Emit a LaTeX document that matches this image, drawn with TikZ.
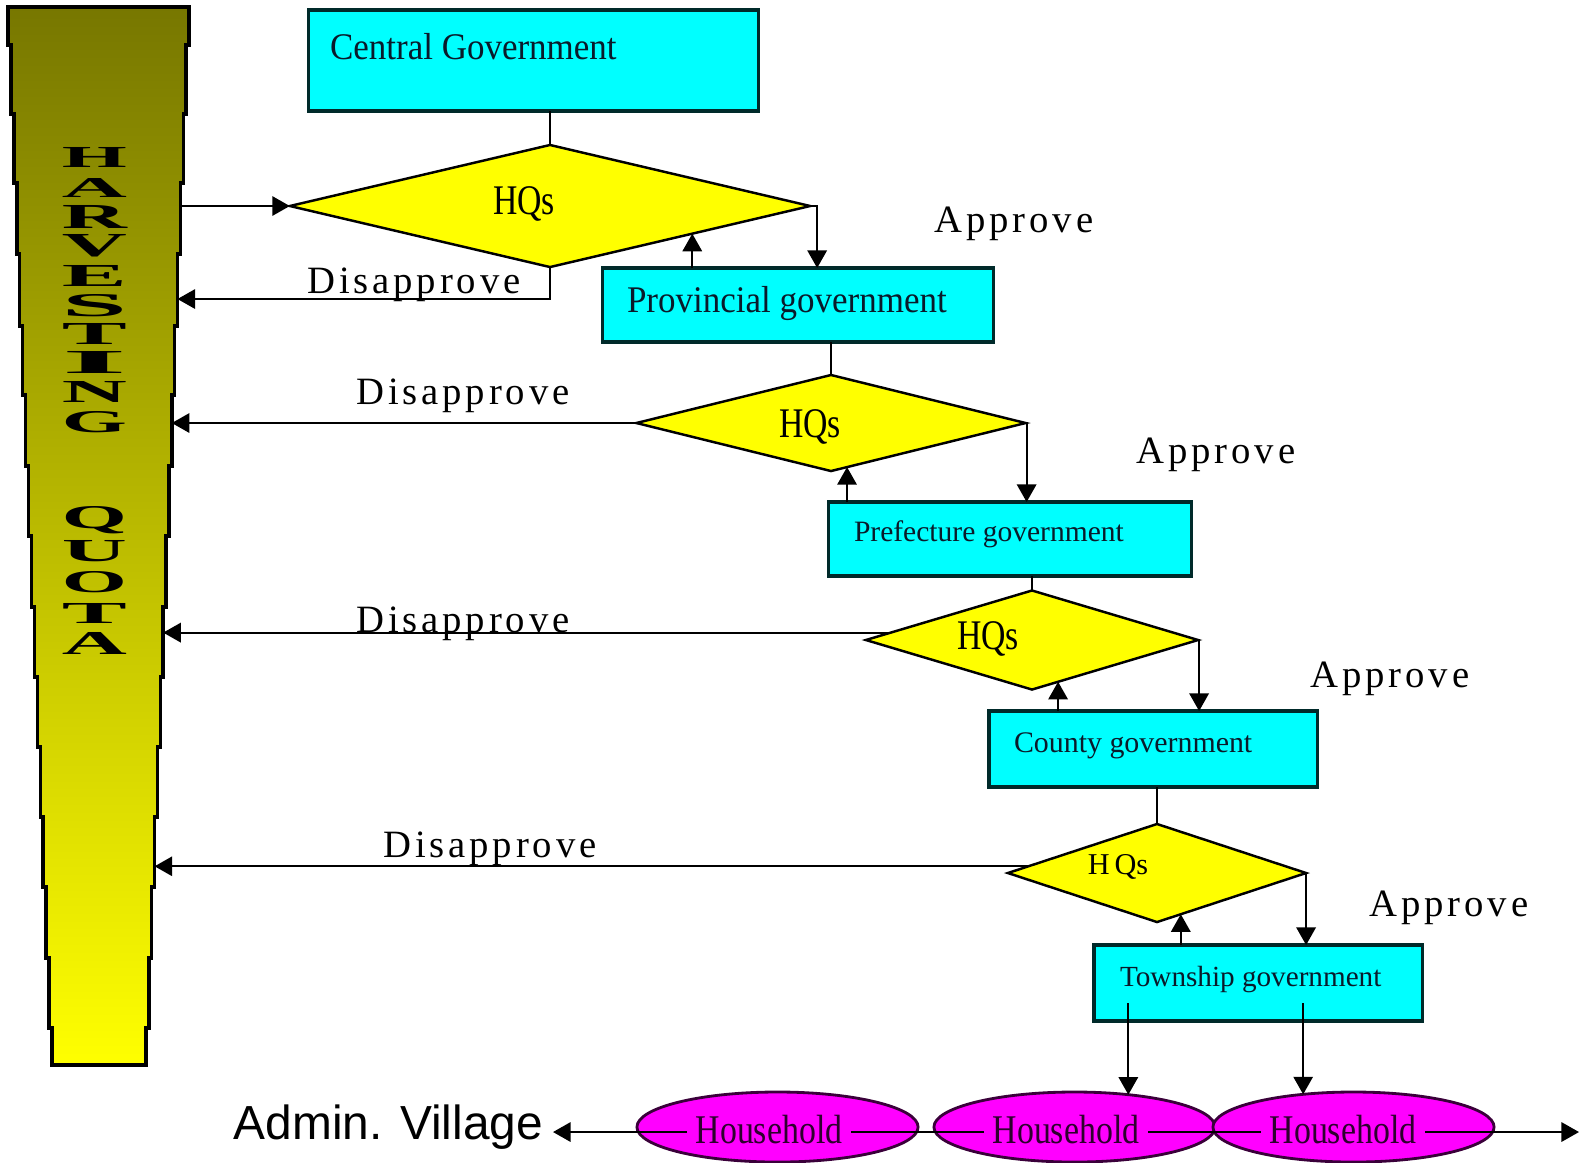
\documentclass[tikz,border=0pt]{standalone}
\usepackage{fontspec}
\usepackage{graphicx}
\setmainfont{Liberation Serif}
\newfontfamily\spacedserif[LetterSpace=10]{Liberation Serif}
\newfontfamily\sansfam{Liberation Sans}
\usetikzlibrary{shapes.geometric,arrows.meta,calc}
\definecolor{cyanfill}{HTML}{00FFFF}
\definecolor{boxline}{HTML}{002A2A}
\definecolor{yel}{HTML}{FFFF00}
\definecolor{mag}{HTML}{FF00FF}
\definecolor{hhline}{HTML}{3A003A}
\definecolor{barTop}{HTML}{777700}
\definecolor{barBot}{HTML}{FFFF00}
\definecolor{txtdark}{HTML}{0A1A2A}
\newcommand\xsc[2]{\scalebox{#1}[1]{#2}}
\begin{document}
\begin{tikzpicture}[x=0.01cm,y=-0.01cm,
  gov/.style={rectangle, draw=boxline, fill=cyanfill, line width=0.9pt, inner sep=0pt, outer sep=0pt},
  hq/.style={diamond, draw=black, fill=yel, line width=0.7pt, inner sep=0pt, outer sep=0pt},
  hh/.style={ellipse, draw=hhline, fill=mag, line width=0.8pt, inner sep=0pt, outer sep=0pt, minimum width=2.81cm, minimum height=0.70cm},
  lbl/.style={inner sep=0pt, outer sep=0pt, text=txtdark},
  conn/.style={line width=0.6pt, draw=black},
  arr/.style={conn, -{Triangle[length=5pt,width=5.5pt]}},
  arrboth/.style={conn, {Triangle[length=5pt,width=5.5pt]}-{Triangle[length=5pt,width=5.5pt]}},
  verdict/.style={inner sep=0pt, outer sep=0pt, text=black, font=\spacedserif\fontsize{11}{13}\selectfont},
  hqtext/.style={lbl, text=black, font=\fontsize{12}{14}\selectfont},
  hhtext/.style={inner xsep=0.09cm, inner ysep=0pt, fill=mag, text=hhline!80!black, font=\fontsize{11.6}{13}\selectfont},
  barletter/.style={inner sep=0pt, outer sep=0pt, font=\bfseries, text=black}
]
\useasboundingbox (0,0) rectangle (1585,1162);
\fill[white] (0,0) rectangle (1585,1162);

% ---- HARVESTING QUOTA bar ----
\draw[line width=1pt, top color=barTop, bottom color=barBot]
 (8,7) -- (189,7) -- (189,45) -- (186.1,45) -- (186.1,114) -- (183.3,114) -- (183.3,183) -- (180.4,183) -- (180.4,254) -- (177.5,254) -- (177.5,326) -- (174.7,326) -- (174.7,395) -- (171.8,395) -- (171.8,466) -- (168.9,466) -- (168.9,536) -- (166.1,536) -- (166.1,607) -- (163.2,607) -- (163.2,677) -- (160.3,677) -- (160.3,747) -- (157.5,747) -- (157.5,817) -- (154.6,817) -- (154.6,887) -- (151.7,887) -- (151.7,958) -- (148.9,958) -- (148.9,1028) -- (146,1028) -- (146,1065)
 -- (52,1065) -- (52,1028) -- (49.1,1028) -- (49.1,958) -- (46.1,958) -- (46.1,887) -- (43.2,887) -- (43.2,817) -- (40.3,817) -- (40.3,747) -- (37.3,747) -- (37.3,677) -- (34.4,677) -- (34.4,607) -- (31.5,607) -- (31.5,536) -- (28.5,536) -- (28.5,466) -- (25.6,466) -- (25.6,395) -- (22.7,395) -- (22.7,326) -- (19.7,326) -- (19.7,254) -- (16.8,254) -- (16.8,183) -- (13.9,183) -- (13.9,114) -- (10.9,114) -- (10.9,45) -- (8,45) -- cycle;

\foreach \ch/\yy/\hh [count=\i] in {H/157/0.20cm, A/188/0.19cm, R/217/0.23cm, V/246/0.22cm, E/276/0.21cm, S/306/0.22cm, T/334/0.21cm, I/362/0.22cm, N/392/0.21cm, G/422/0.21cm, Q/520/0.22cm, U/551/0.21cm, O/582/0.21cm, T/613/0.20cm, A/643/0.22cm}
  \node[barletter] (L\i) at (94.5,\yy) {\resizebox{0.65cm}{\hh}{\ch}};

\coordinate (barIn) at (180.4,206);
\coordinate (bar1) at (177.5,299);
\coordinate (bar2) at (171.8,423);
\coordinate (bar3) at (163.2,632);
\coordinate (bar4) at (154.6,864);

% ---- government boxes ----
\node[gov, minimum width=4.49cm, minimum height=1.01cm] (cg) at (533.5,60.5) {};
\node[gov, minimum width=3.90cm, minimum height=0.74cm] (prov) at (798,305) {};
\node[gov, minimum width=3.62cm, minimum height=0.74cm] (pref) at (1010,539) {};
\node[gov, minimum width=3.28cm, minimum height=0.76cm] (county) at (1153,749) {};
\node[gov, minimum width=3.28cm, minimum height=0.76cm] (town) at (1258,983) {};

\node[lbl, anchor=west, font=\fontsize{10.7}{12}\selectfont] (cgT) at (330,47) {\xsc{0.93}{Central Government}};
\node[lbl, anchor=west, font=\fontsize{10.7}{12}\selectfont] (provT) at (627,303) {\xsc{0.93}{Provincial government}};
\node[lbl, anchor=west, font=\fontsize{8.4}{10}\selectfont] (prefT) at (854,534) {Prefecture government};
\node[lbl, anchor=west, font=\fontsize{8.5}{10}\selectfont] (countyT) at (1014,746) {County government};
\node[lbl, anchor=west, font=\fontsize{8.3}{10}\selectfont] (townT) at (1120,979) {Township government};

% ---- HQs diamonds ----
\node[hq, minimum width=5.20cm, minimum height=1.22cm] (d1) at (550,206) {};
\node[hq, minimum width=3.89cm, minimum height=0.96cm] (d2) at (831,423) {};
\node[hq, minimum width=3.32cm, minimum height=0.99cm] (d3) at (1032,640) {};
\node[hq, minimum width=2.98cm, minimum height=0.98cm] (d4) at (1157,873) {};

\node[hqtext] (h1) at (524,204) {\xsc{0.8}{HQs}};
\node[hqtext] (h2) at (810,427) {\xsc{0.8}{HQs}};
\node[hqtext] (h3) at (988,639) {\xsc{0.8}{HQs}};
\node[lbl, text=black, font=\fontsize{8.6}{10}\selectfont] (h4) at (1118,867) {H\,Qs};

% ---- connectors: boxes to diamonds ----
\draw[conn] (d1.north) -- (d1.north |- cg.south);
\draw[conn] (d2.north) -- (d2.north |- prov.south);
\draw[conn] (d3.north) -- (d3.north |- pref.south);
\draw[conn] (d4.north) -- (d4.north |- county.south);

% into first diamond from the bar
\draw[arr] (barIn |- d1.west) -- (d1.west);

% approve arrows
\draw[arr] (d1.east) -- ++(7,0) coordinate (ap1) -- (ap1 |- prov.north);
\draw[arr] (d2.east) -- ++(1,0) coordinate (ap2) -- (ap2 |- pref.north);
\draw[arr] (d3.east) -- ++(1,0) coordinate (ap3) -- (ap3 |- county.north);
\draw[arr] (d4.east) -- ++(0,0) coordinate (ap4) -- (ap4 |- town.north);

% upward arrows from boxes back to diamonds
\draw[arr] (d1.-11 |- prov.north) -- (d1.-11);
\draw[arr] (d2.-70 |- pref.north) -- (d2.-70);
\draw[arr] (d3.-58 |- county.north) -- (d3.-58);
\draw[arr] (d4.-60 |- town.north) -- (d4.-60);

% disapprove arrows back to the bar
\draw[arr] (d1.south) |- (bar1);
\draw[arr] (d2.west) -- (d2.west -| bar2);
\draw[arr] (d3.177) -- (d3.177 -| bar3);
\draw[arr] (d4.177) -- (d4.177 -| bar4);

% labels
\node[verdict] (ok1) at (1014,224) {Approve};
\node[verdict] (ok2) at (1216,455) {Approve};
\node[verdict] (ok3) at (1390,679) {Approve};
\node[verdict] (ok4) at (1449,908) {Approve};
\node[verdict] (no1) at (414,285) {Disapprove};
\node[verdict] (no2) at (463,396) {Disapprove};
\node[verdict] (no3) at (463,624) {Disapprove};
\node[verdict] (no4) at (490,849) {Disapprove};

% ---- households ----
\node[hh] (e1) at (777.5,1127) {};
\node[hh] (e2) at (1074.5,1127) {};
\node[hh] (e3) at (1353.5,1127) {};

\node[inner xsep=0.1cm, inner ysep=0pt, outer sep=0pt, anchor=east, font=\sansfam\fontsize{13.6}{15}\selectfont] (adm) at (553,1127) {Admin. Village};
\coordinate (vr) at (1579,1132);
\draw[arrboth] (adm.east |- vr) -- (vr);

\draw[arr] (e2.31 |- town.south) ++(0,-18) -- (e2.31);
\draw[arr] (e3.147 |- town.south) ++(0,-18) -- (e3.147);

\node[hhtext] (t1) at (769,1130) {\xsc{0.83}{Household}};
\node[hhtext] (t2) at (1066,1130) {\xsc{0.83}{Household}};
\node[hhtext] (t3) at (1343,1130) {\xsc{0.83}{Household}};
\end{tikzpicture}
\end{document}
